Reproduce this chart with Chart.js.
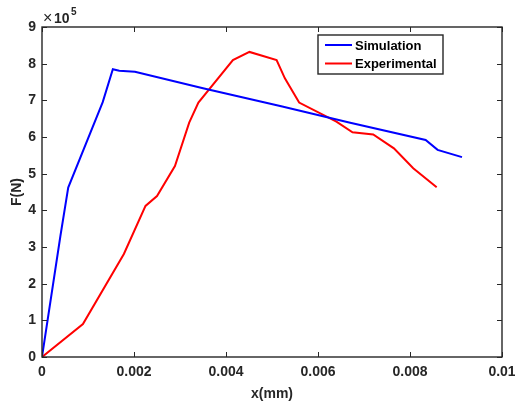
<!DOCTYPE html>
<html>
<head>
<meta charset="utf-8">
<script src="https://cdn.jsdelivr.net/npm/chart.js@4.4.0/dist/chart.umd.min.js"></script>
<style>
  html, body { margin: 0; padding: 0; background: #fff; }
  #wrap { width: 515px; height: 401px; }
</style>
</head>
<body>
<div id="wrap"><canvas id="myGraph" width="515" height="401"></canvas></div>
<script>
// values (x in mm, F in units of 1e5 N)
const simX = [0, 0.0004, 0.00057, 0.00132, 0.00154, 0.00168, 0.00202, 0.0035, 0.0052, 0.0067, 0.00834, 0.0086, 0.00913];
const simY = [0, 3.3, 4.62, 6.95, 7.85, 7.81, 7.78, 7.33, 6.84, 6.39, 5.92, 5.65, 5.45];

const expX = [0, 0.00089, 0.00178, 0.00225, 0.0025, 0.00289, 0.0032, 0.0034, 0.00415, 0.00451, 0.0051, 0.00528, 0.00559, 0.0064, 0.00675, 0.0072, 0.00765, 0.00807, 0.00858];
const expY = [0, 0.9, 2.81, 4.12, 4.39, 5.21, 6.39, 6.94, 8.1, 8.32, 8.1, 7.6, 6.94, 6.42, 6.13, 6.07, 5.69, 5.15, 4.63];

const xTicks = [0, 0.002, 0.004, 0.006, 0.008, 0.01];
const yTicks = [0, 1, 2, 3, 4, 5, 6, 7, 8, 9];
const yExponent = "5";

const FONT = '"Liberation Sans", Arial, Helvetica, sans-serif';
const AXIS = "#262626";

function toPoints(xs, ys) {
  return xs.map((x, i) => ({ x: x, y: ys[i] }));
}

// box, inward ticks, exponent label and legend in MATLAB style
const matlabAxes = {
  id: "matlabAxes",
  afterDraw(chart) {
    const ctx = chart.ctx;
    const a = chart.chartArea;
    const xs = chart.scales.x;
    const ys = chart.scales.y;
    const tl = 5;
    ctx.save();
    ctx.strokeStyle = AXIS;
    ctx.lineWidth = 1.4;
    ctx.strokeRect(a.left, a.top, a.right - a.left, a.bottom - a.top);
    ctx.lineWidth = 1;
    ctx.beginPath();
    xTicks.forEach((v) => {
      const px = Math.round(xs.getPixelForValue(v)) + 0.5;
      ctx.moveTo(px, a.bottom); ctx.lineTo(px, a.bottom - tl);
      ctx.moveTo(px, a.top); ctx.lineTo(px, a.top + tl);
    });
    yTicks.forEach((v) => {
      const py = Math.round(ys.getPixelForValue(v)) + 0.5;
      ctx.moveTo(a.left, py); ctx.lineTo(a.left + tl, py);
      ctx.moveTo(a.right, py); ctx.lineTo(a.right - tl, py);
    });
    ctx.stroke();

    // exponent
    ctx.fillStyle = AXIS;
    ctx.textBaseline = "alphabetic";
    ctx.textAlign = "left";
    ctx.font = "16px " + FONT;
    ctx.fillText("\u00d7", a.left + 1, a.top - 4);
    ctx.font = "bold 14px " + FONT;
    ctx.fillText("10", a.left + 12, a.top - 4);
    ctx.font = "bold 10px " + FONT;
    ctx.fillText(yExponent, a.left + 29, a.top - 12);

    // legend
    const lx = 318, ly = 35, lw = 125, lh = 39;
    ctx.fillStyle = "#fff";
    ctx.fillRect(lx, ly, lw, lh);
    ctx.strokeStyle = AXIS;
    ctx.lineWidth = 1.4;
    ctx.strokeRect(lx, ly, lw, lh);
    ctx.font = "bold 13px " + FONT;
    ctx.textBaseline = "middle";
    chart.data.datasets.forEach((ds, i) => {
      const y = ly + 10 + i * 18.5;
      ctx.strokeStyle = ds.borderColor;
      ctx.lineWidth = 2;
      ctx.beginPath();
      ctx.moveTo(lx + 7, y); ctx.lineTo(lx + 34, y);
      ctx.stroke();
      ctx.fillStyle = "#000";
      ctx.fillText(ds.label, lx + 37, y + 1);
    });
    ctx.restore();
  }
};

new Chart(document.getElementById("myGraph"), {
  type: "line",
  data: {
    datasets: [
      {
        label: "Simulation",
        data: toPoints(simX, simY),
        borderColor: "#0000ff",
        borderWidth: 2,
        pointRadius: 0,
        tension: 0,
      },
      {
        label: "Experimental",
        data: toPoints(expX, expY),
        borderColor: "#ff0000",
        borderWidth: 2,
        pointRadius: 0,
        tension: 0,
      },
    ],
  },
  options: {
    responsive: false,
    animation: false,
    layout: { padding: { left: 0, top: 27, right: 13, bottom: 0 } },
    plugins: {
      legend: { display: false },
      tooltip: { enabled: false },
    },
    scales: {
      x: {
        type: "linear",
        min: 0,
        max: 0.01,
        afterFit: (s) => { s.height = 44; s.paddingLeft = 0; s.paddingRight = 0; },
        afterBuildTicks: (s) => { s.ticks = xTicks.map((v) => ({ value: v })); },
        grid: { display: false, drawTicks: false },
        border: { display: false },
        ticks: {
          padding: 7,
          color: AXIS,
          font: { family: FONT, size: 14, weight: "bold" },
          callback: (v) => String(parseFloat(Number(v).toFixed(4))),
        },
        title: {
          display: true,
          text: "x(mm)",
          color: AXIS,
          padding: { top: 0, bottom: 0 },
          font: { family: FONT, size: 14, weight: "bold", lineHeight: 1 },
        },
      },
      y: {
        min: 0,
        max: 9,
        afterFit: (s) => { s.width = 42; },
        afterBuildTicks: (s) => { s.ticks = yTicks.map((v) => ({ value: v })); },
        grid: { display: false, drawTicks: false },
        border: { display: false },
        ticks: {
          padding: 6,
          color: AXIS,
          font: { family: FONT, size: 14, weight: "bold" },
        },
        title: {
          display: true,
          text: "F(N)",
          color: AXIS,
          padding: { top: 9, bottom: 0 },
          font: { family: FONT, size: 14, weight: "bold" },
        },
      },
    },
  },
  plugins: [matlabAxes],
});
</script>
</body>
</html>
